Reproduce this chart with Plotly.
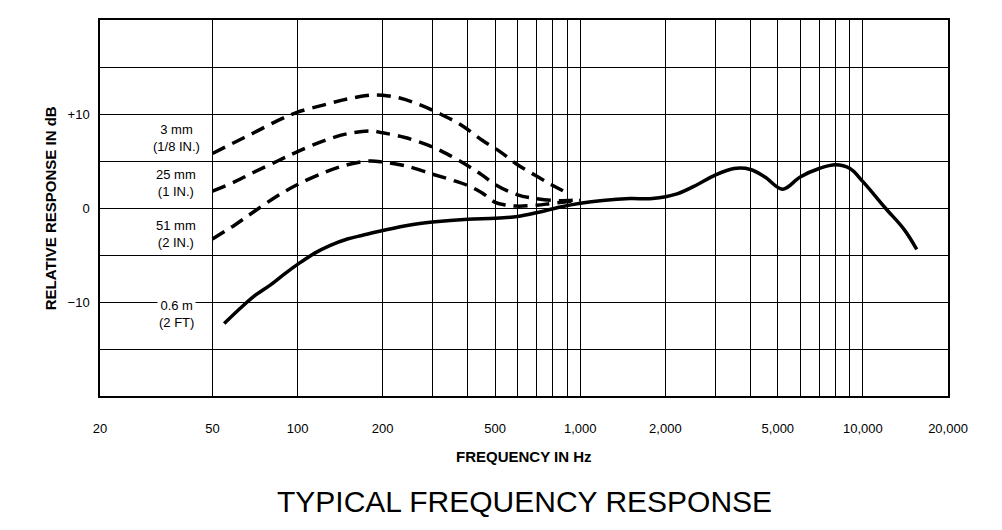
import plotly.graph_objects as go

# curves (Hz, dB)
f_06m = [55, 62, 70, 80, 90, 100, 115, 130, 150, 170, 200, 250, 300, 400, 500, 600, 700, 850, 1000, 1200, 1500, 1800,
         2200, 2600, 3000, 3500, 4000, 4500, 5200, 6000, 7000, 8000, 9000, 10000, 12000, 14000, 15500]
db_06m = [-12.3, -10.8, -9.4, -8.2, -7.0, -6.0, -4.8, -4.0, -3.3, -2.9, -2.4, -1.8, -1.5, -1.2, -1.1, -0.9, -0.5, 0.1,
          0.5, 0.8, 1.0, 1.0, 1.5, 2.5, 3.5, 4.2, 4.1, 3.3, 2.0, 3.3, 4.2, 4.6, 4.2, 2.8, 0.0, -2.3, -4.4]

f_3mm = [50, 60, 70, 85, 100, 125, 150, 180, 200, 230, 270, 320, 380, 450, 520, 600, 700, 800, 900]
db_3mm = [5.8, 7.0, 8.0, 9.3, 10.2, 11.0, 11.6, 12.0, 12.0, 11.7, 11.0, 10.0, 8.8, 7.2, 6.0, 4.6, 3.4, 2.4, 1.6]

f_25mm = [50, 60, 70, 85, 100, 125, 150, 180, 200, 240, 300, 350, 400, 450, 500, 600, 700, 800, 900, 1000]
db_25mm = [1.8, 2.8, 3.8, 5.0, 6.0, 7.2, 7.9, 8.2, 8.0, 7.5, 6.5, 5.5, 4.5, 3.5, 2.5, 1.4, 1.0, 0.8, 0.8, 0.9]

f_51mm = [50, 60, 70, 85, 100, 125, 150, 180, 200, 240, 300, 350, 400, 450, 500, 550, 600, 700, 800, 1000]
db_51mm = [-3.3, -1.8, -0.4, 1.3, 2.5, 3.8, 4.6, 5.0, 4.9, 4.5, 3.6, 3.0, 2.4, 1.6, 0.6, 0.3, 0.2, 0.3, 0.5, 0.8]

grid_hz = [20, 50, 100, 200, 300, 400, 500, 600, 700, 800, 900, 1000,
           2000, 3000, 4000, 5000, 6000, 7000, 8000, 9000, 10000, 20000]
labelled = {20: "20", 50: "50", 100: "100", 200: "200", 500: "500", 1000: "1,000",
            2000: "2,000", 5000: "5,000", 10000: "10,000", 20000: "20,000"}
y_ticks = [-20, -15, -10, -5, 0, 5, 10, 15, 20]
y_text = {10: "+10", 0: "0", -10: "\u221210"}

fig = go.Figure()
for f, db in [(f_3mm, db_3mm), (f_25mm, db_25mm), (f_51mm, db_51mm)]:
    fig.add_trace(go.Scatter(x=f, y=db, mode="lines", line=dict(color="black", width=3.5, dash="14px,8px", shape="spline")))
fig.add_trace(go.Scatter(x=f_06m, y=db_06m, mode="lines", line=dict(color="black", width=3.5, shape="spline")))

font = "Liberation Sans, Arial, sans-serif"
fig.update_xaxes(type="log", range=[1.301, 4.301], tickvals=grid_hz, automargin=False,
                 ticktext=[labelled.get(v, "") for v in grid_hz],
                 showgrid=True, gridcolor="black", gridwidth=1, zeroline=False,
                 showline=True, linecolor="black", linewidth=1.5, mirror=True,
                 ticks="", ticklabelstandoff=20, tickfont=dict(size=13, color="black"))
fig.update_yaxes(range=[-20, 20], tickvals=y_ticks, ticktext=[y_text.get(v, "") for v in y_ticks],
                 showgrid=True, gridcolor="black", gridwidth=1, zeroline=False, automargin=False,
                 showline=True, linecolor="black", linewidth=1.5, mirror=True,
                 ticks="", ticklabelstandoff=6, tickfont=dict(size=13, color="black"))

labels = [("3 mm<br>(1/8 IN.)", 7.5), ("25 mm<br>(1 IN.)", 2.7), ("51 mm<br>(2 IN.)", -2.8), ("0.6 m<br>(2 FT)", -11.3)]
for txt, y in labels:
    fig.add_annotation(x=1.57, y=y, xref="x", yref="y", text=txt, showarrow=False,
                       font=dict(size=13, color="black", family=font), align="center", bgcolor="white")

fig.add_annotation(x=0.5, y=-0.19, xref="paper", yref="paper", text="<b>FREQUENCY IN Hz</b>", showarrow=False,
                   font=dict(size=15, color="black", family=font))
fig.add_annotation(x=0.5, y=-0.33, xref="paper", yref="paper", text="TYPICAL FREQUENCY RESPONSE", showarrow=False,
                   font=dict(size=30, color="black", family=font))
fig.add_annotation(x=-0.071, y=0.5, xref="paper", yref="paper", text="<b>RELATIVE RESPONSE IN dB</b>",
                   textangle=-90, showarrow=False, font=dict(size=15, color="black", family=font))

fig.update_layout(width=1002, height=530, margin=dict(l=92, r=62, t=12, b=142, autoexpand=False),
                  plot_bgcolor="white", paper_bgcolor="white", showlegend=False,
                  font=dict(family=font, color="black"))
fig.write_html("out.html")
